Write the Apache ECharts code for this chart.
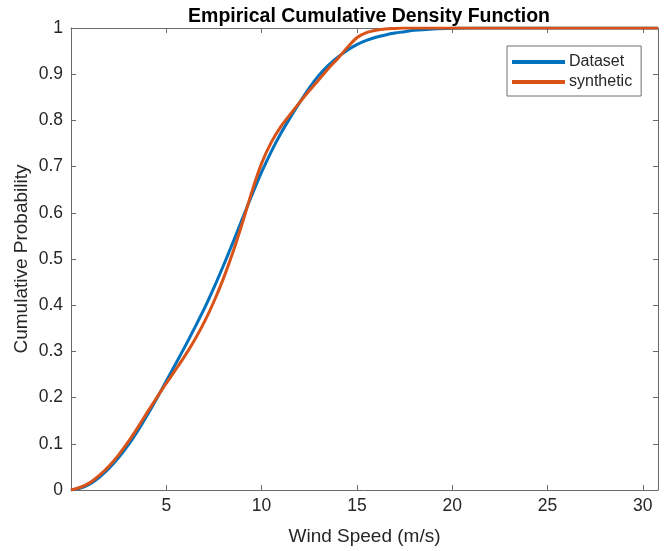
<!DOCTYPE html>
<html>
<head>
<meta charset="utf-8">
<script src="https://cdn.jsdelivr.net/npm/echarts@6/dist/echarts.min.js"></script>
<style>
html,body{margin:0;padding:0;background:#fff;}
#chart{width:669px;height:551px;}
</style>
</head>
<body>
<div id="chart"></div>
<script>
const speeds = [0,0.5,1,1.5,2,2.5,3,3.5,4,4.5,5,5.5,6,6.5,7,7.5,8,8.5,9,9.5,10,10.5,11,11.5,12,12.5,13,13.5,14,14.5,15,15.5,16,16.5,17,17.5,18,19,20,21,25,30.8];
const datasetCdf = [0,0.004,0.013,0.028,0.047,0.070,0.097,0.128,0.162,0.198,0.236,0.274,0.312,0.352,0.393,0.438,0.486,0.536,0.588,0.639,0.688,0.732,0.771,0.806,0.839,0.870,0.897,0.919,0.937,0.952,0.964,0.973,0.980,0.985,0.989,0.992,0.995,0.998,0.9995,1,1,1];
const syntheticCdf = [0,0.006,0.016,0.032,0.052,0.076,0.104,0.135,0.168,0.200,0.231,0.261,0.292,0.326,0.364,0.408,0.458,0.515,0.579,0.647,0.707,0.752,0.786,0.813,0.839,0.864,0.888,0.912,0.934,0.958,0.979,0.990,0.995,0.998,0.999,1,1,1,1,1,1,1];
const yTicks = [0,0.1,0.2,0.3,0.4,0.5,0.6,0.7,0.8,0.9,1];

const font = '"Liberation Sans", Arial, sans-serif';
const axisColor = '#6a6a6a';
const textColor = '#262626';

const chart = echarts.init(document.getElementById('chart'), null, {renderer:'canvas'});
const pairs = (ys) => speeds.map((x,i)=>[x, ys[i]]);
const tickStyle = {show:true, inside:true, length:5, lineStyle:{color:axisColor, width:1}};
const lineStyleAxis = {show:true, onZero:false, lineStyle:{color:axisColor, width:1}};

chart.setOption({
  animation:false,
  backgroundColor:'#fff',
  title:{
    text:'Empirical Cumulative Density Function',
    left:364, top:2, textAlign:'center',
    textStyle:{fontFamily:font, fontSize:19.5, fontWeight:'bold', color:'#000'}
  },
  legend:{
    left:507, top:46, orient:'vertical',
    itemWidth:53, itemHeight:4, itemGap:4,
    padding:[8,9,6,5],
    borderColor:'#6e6e6e', borderWidth:1, backgroundColor:'#fff',
    icon:'rect',
    textStyle:{fontFamily:font, fontSize:16, color:textColor, padding:[0,0,0,-1]},
    data:['Dataset','synthetic']
  },
  grid:{left:71, right:11, top:28, bottom:60, containLabel:false},
  xAxis:[{
    type:'value', min:0, max:30.8, interval:5, position:'bottom',
    name:'Wind Speed (m/s)', nameLocation:'middle', nameGap:37, nameMoveOverlap:false,
    nameTextStyle:{fontFamily:font, fontSize:19, color:textColor},
    axisLine:lineStyleAxis,
    axisTick:tickStyle,
    axisLabel:{fontFamily:font, fontSize:17.5, color:textColor, margin:7, showMaxLabel:false,
      formatter:(v)=> v===0 ? '' : String(v)},
    splitLine:{show:false}
  },{
    type:'value', min:0, max:30.8, interval:5, position:'top',
    axisLine:lineStyleAxis,
    axisTick:tickStyle,
    axisLabel:{show:false}, splitLine:{show:false}
  }],
  yAxis:[{
    type:'value', min:0, max:1, interval:0.1, position:'left',
    name:'Cumulative Probability', nameLocation:'middle', nameGap:40, nameMoveOverlap:false,
    nameTextStyle:{fontFamily:font, fontSize:19, color:textColor},
    axisLine:lineStyleAxis,
    axisTick:tickStyle,
    axisLabel:{fontFamily:font, fontSize:17.5, color:textColor, margin:8,
      formatter:(v)=>{ const t = yTicks.find(k=>Math.abs(k-v)<1e-6); return t===undefined ? '' : String(t); }},
    splitLine:{show:false}
  },{
    type:'value', min:0, max:1, interval:0.1, position:'right',
    axisLine:lineStyleAxis,
    axisTick:tickStyle,
    axisLabel:{show:false}, splitLine:{show:false}
  }],
  series:[{
    name:'Dataset', type:'line', data:pairs(datasetCdf), smooth:0.3,
    showSymbol:false, symbol:'none', clip:true,
    lineStyle:{color:'#0072BD', width:3}, itemStyle:{color:'#0072BD'}
  },{
    name:'synthetic', type:'line', data:pairs(syntheticCdf), smooth:0.3,
    showSymbol:false, symbol:'none', clip:true,
    lineStyle:{color:'#D95319', width:3}, itemStyle:{color:'#D95319'}
  }]
});
</script>
</body>
</html>
